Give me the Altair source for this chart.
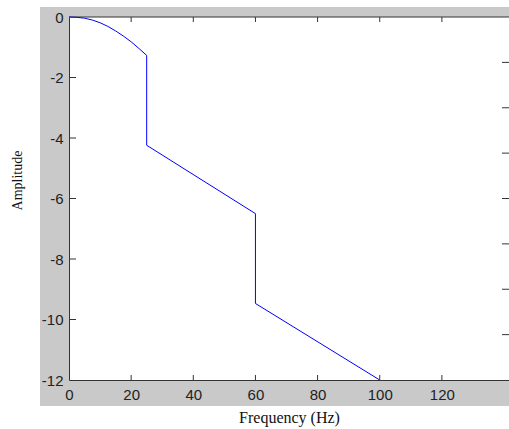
import altair as alt
import pandas as pd

# ---- data ----
freq = [0, 2.5, 5, 7.5, 10, 12.5, 15, 17.5, 20, 22.5, 25, 25, 60, 60, 100]
amp = [0, -0.01, -0.04, -0.1, -0.19, -0.31, -0.46, -0.63, -0.82, -1.04, -1.27, -4.24, -6.5, -9.47, -12]
x_ticks = [0, 20, 40, 60, 80, 100, 120]
y_ticks = [0, -2, -4, -6, -8, -10, -12]
right_ticks = [-1.5, -3, -4.5, -6, -7.5, -9, -10.5]

W, H = 440, 363
AX = "#333333"

line_df = pd.DataFrame({"f": freq, "a": amp, "i": list(range(len(freq)))})
xt_df = pd.DataFrame({"f": x_ticks[1:]})
yt_df = pd.DataFrame({"a": y_ticks[1:-1]})
rt_df = pd.DataFrame({"a": right_ticks})
one = pd.DataFrame({"k": [0]})

xs = alt.Scale(domain=[0, 141.6], nice=False, zero=False)
ys = alt.Scale(domain=[-12, 0], nice=False, zero=False)

x_axis = alt.Axis(values=x_ticks, title="Frequency (Hz)", domain=True, domainColor=AX,
                  ticks=False, tickSize=0, grid=False, labelFlush=False, labelOverlap=False,
                  labelFont="Liberation Sans", labelFontSize=15, labelColor="#222222",
                  labelPadding=7, titleFont="Liberation Serif", titleFontSize=16,
                  titleFontWeight="normal", titleColor="#111111", titleBaseline="alphabetic",
                  titleY=42, zindex=1)
y_axis = alt.Axis(values=y_ticks, title="Amplitude", domain=True, domainColor=AX,
                  ticks=False, tickSize=0, grid=False, labelFlush=False, labelOverlap=False,
                  labelExpr="replace(datum.label, '\u2212', '-')",
                  labelFont="Liberation Sans", labelFontSize=15, labelColor="#222222",
                  labelPadding=6, titleFont="Liberation Serif", titleFontSize=14,
                  titleFontWeight="normal", titleColor="#111111", titleBaseline="middle",
                  titleX=-52, titleY=163, zindex=1)

X = alt.X("f:Q", scale=xs, axis=x_axis)
Y = alt.Y("a:Q", scale=ys, axis=y_axis)

gray = alt.Chart(one).mark_rect(color="#c9c9c9").encode(
    x=alt.value(-29), x2=alt.value(W), y=alt.value(-10), y2=alt.value(389))
white = alt.Chart(one).mark_rect(color="white").encode(
    x=alt.value(0), x2=alt.value(W), y=alt.value(0), y2=alt.value(H))
top_border = alt.Chart(one).mark_rule(color=AX, strokeWidth=1).encode(
    x=alt.value(0), x2=alt.value(W), y=alt.value(0))

bottom_ticks = alt.Chart(xt_df).mark_rule(color=AX).encode(
    x=X, y=alt.value(H - 5), y2=alt.value(H))
top_ticks = alt.Chart(xt_df).mark_rule(color=AX).encode(
    x=X, y=alt.value(0), y2=alt.value(5))
left_ticks = alt.Chart(yt_df).mark_rule(color=AX).encode(
    y=Y, x=alt.value(0), x2=alt.value(7))
right_tk = alt.Chart(rt_df).mark_rule(color=AX).encode(
    y=Y, x=alt.value(W - 7), x2=alt.value(W))

line = alt.Chart(line_df).mark_line(color="#0000ff", strokeWidth=1).encode(
    x=X, y=Y, order="i:Q")

chart = alt.layer(gray, white, top_border, bottom_ticks, top_ticks, left_ticks, right_tk, line).properties(
    width=W, height=H,
    autosize=alt.AutoSizeParams(type="none"),
    padding={"left": 69, "top": 17, "right": 0, "bottom": 49},
    background="white",
).configure_view(stroke=None)

chart.save("out.html", embed_options={"renderer": "svg", "actions": False})
